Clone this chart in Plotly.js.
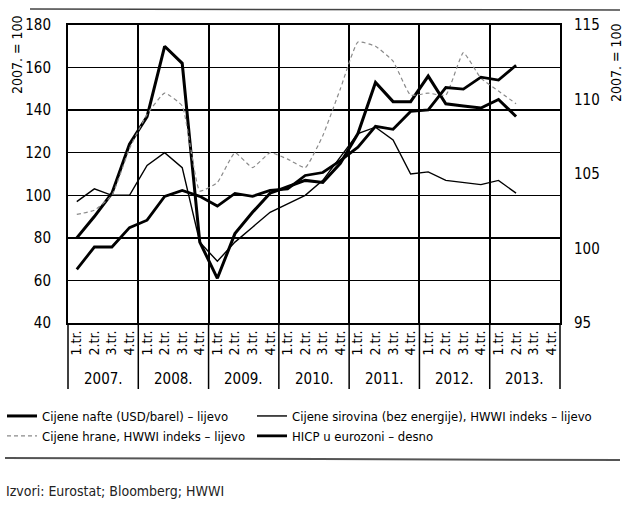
<!DOCTYPE html>
<html>
<head>
<meta charset="utf-8">
<script src="https://cdn.plot.ly/plotly-3.0.1.min.js"></script>
<style>
html,body{margin:0;padding:0;background:#fff;}
#chart{width:623px;height:506px;}
</style>
</head>
<body>
<div id="chart"></div>
<script>
// ---- data ----
const years = ['2007.', '2008.', '2009.', '2010.', '2011.', '2012.', '2013.'];
const quarterLabels = ['1.tr.', '2.tr.', '3.tr.', '4.tr.'];
const seriesNames = [
  'Cijene nafte (USD/barel) – lijevo',
  'Cijene sirovina (bez energije), HWWI indeks – lijevo',
  'Cijene hrane, HWWI indeks – lijevo',
  'HICP u eurozoni – desno'
];
const oil  = [80, 90, 101, 124, 137, 170, 162, 78, 61, 82, 92, 101, 104, 107, 106, 115, 129, 153, 144, 144, 156, 143, 142, 141, 145, 137];
const raw  = [97, 103, 100, 100, 114, 120, 113, 78, 69, 78, 85, 92, 96, 100, 107, 118, 129, 132, 126, 110, 111, 107, 106, 105, 107, 101];
const food = [91, 93, 100, 122, 138, 148, 142, 102, 106, 120, 113, 120, 117, 113, 128, 150, 172, 170, 163, 147, 148, 147, 167, 155, 149, 143];
const hicp = [98.6, 100.1, 100.1, 101.4, 101.9, 103.5, 103.9, 103.5, 102.85, 103.7, 103.5, 103.9, 104.0, 104.9, 105.1, 105.9, 106.8, 108.2, 108.0, 109.2, 109.3, 110.8, 110.7, 111.5, 111.3, 112.3];
const axisTitle = '2007. = 100';
const sourceText = 'Izvori: Eurostat; Bloomberg; HWWI';

// ---- build ----
const nQ = years.length * quarterLabels.length;
const tickVals = [], tickText = [];
for (let i = 0; i < nQ; i++) { tickVals.push(i + 0.5); tickText.push(quarterLabels[i % 4]); }
const xs = n => Array.from({length: n}, (_, i) => i + 0.5);

const FONT = 'DejaVu Sans Condensed, Liberation Sans Narrow, Arial Narrow, sans-serif';
const PW = 492, PH = 298, ML = 68, MT = 25;
const px2x = p => (p - ML) / PW;
const py2y = p => 1 - (p - MT) / PH;

const traces = [
  {x: xs(oil.length), y: oil, name: seriesNames[0], mode: 'lines', legend: 'legend', line: {color: '#000', width: 3}},
  {x: xs(raw.length), y: raw, name: seriesNames[1], mode: 'lines', legend: 'legend2', line: {color: '#000', width: 1.4}},
  {x: xs(food.length), y: food, name: seriesNames[2], mode: 'lines', legend: 'legend', line: {color: '#8a8a8a', width: 1.2, dash: '4px,3px', shape: 'spline', smoothing: 0.4}},
  {x: xs(hicp.length), y: hicp, name: seriesNames[3], mode: 'lines', legend: 'legend2', yaxis: 'y2', line: {color: '#000', width: 2.8}}
];

const shapes = [];
for (let k = 0; k <= years.length; k++) {
  shapes.push({type: 'line', xref: 'paper', yref: 'paper', x0: k / years.length, x1: k / years.length, y0: 0, y1: py2y(389), line: {color: '#000', width: 1.5}});
}
// top and bottom rules
shapes.push({type: 'line', xref: 'paper', yref: 'paper', x0: px2x(30), x1: px2x(620), y0: py2y(9), y1: py2y(10), line: {color: '#444', width: 1.5}});
shapes.push({type: 'line', xref: 'paper', yref: 'paper', x0: px2x(5), x1: px2x(620), y0: py2y(458), y1: py2y(460), line: {color: '#555', width: 2}});

const annotations = [];
years.forEach((yr, k) => {
  annotations.push({text: yr, xref: 'x', yref: 'paper', x: 4 * k + 2, y: py2y(379), showarrow: false, font: {family: FONT, size: 15, color: '#000'}, yanchor: 'middle'});
});
annotations.push({text: axisTitle, textangle: -90, xref: 'paper', yref: 'paper', x: px2x(17), xanchor: 'center', y: py2y(55), yanchor: 'middle', showarrow: false, font: {family: FONT, size: 14, color: '#000'}});
annotations.push({text: axisTitle, textangle: -90, xref: 'paper', yref: 'paper', x: px2x(616), xanchor: 'center', y: py2y(63), yanchor: 'middle', showarrow: false, font: {family: FONT, size: 14, color: '#000'}});
annotations.push({text: sourceText, xref: 'paper', yref: 'paper', x: px2x(4), xanchor: 'left', y: py2y(491), yanchor: 'middle', showarrow: false, font: {family: FONT, size: 14, color: '#222'}});

const legendCommon = {
  orientation: 'v', xref: 'paper', yref: 'container', xanchor: 'left', yanchor: 'top',
  font: {family: FONT, size: 13, color: '#000'}, tracegroupgap: 0, itemwidth: 30, bgcolor: 'rgba(0,0,0,0)'
};

const layout = {
  width: 623, height: 506,
  margin: {l: ML, r: 63, t: MT, b: 183},
  paper_bgcolor: '#fff', plot_bgcolor: '#fff',
  font: {family: FONT, color: '#000'},
  showlegend: true,
  legend: Object.assign({}, legendCommon, {x: px2x(2), y: 1 - 401 / 506}),
  legend2: Object.assign({}, legendCommon, {x: px2x(252), y: 1 - 401 / 506}),
  xaxis: {
    range: [0, nQ], tickmode: 'array', tickvals: tickVals, ticktext: tickText, tickangle: -90,
    tickfont: {family: FONT, size: 14, color: '#000'}, ticks: '', showgrid: false, zeroline: false,
    showline: true, linecolor: '#000', linewidth: 2, mirror: true,
    minor: {tickmode: 'linear', tick0: 0, dtick: 4, showgrid: true, gridcolor: '#000', gridwidth: 2, ticks: ''},
    fixedrange: true
  },
  yaxis: {
    range: [40, 180], dtick: 20, tick0: 40, showgrid: true, gridcolor: '#000', gridwidth: 1.5,
    zeroline: false, showline: true, linecolor: '#000', linewidth: 2, mirror: true, ticks: '',
    ticklabelstandoff: 12, tickfont: {family: FONT, size: 15, color: '#000'}
  },
  yaxis2: {
    range: [95, 115], dtick: 5, tick0: 95, overlaying: 'y', side: 'right', showgrid: false,
    zeroline: false, showline: false, ticks: '', ticklabelstandoff: 13,
    tickfont: {family: FONT, size: 15, color: '#000'}
  },
  shapes: shapes,
  annotations: annotations
};

Plotly.newPlot('chart', traces, layout, {staticPlot: true, displayModeBar: false});
</script>
</body>
</html>
